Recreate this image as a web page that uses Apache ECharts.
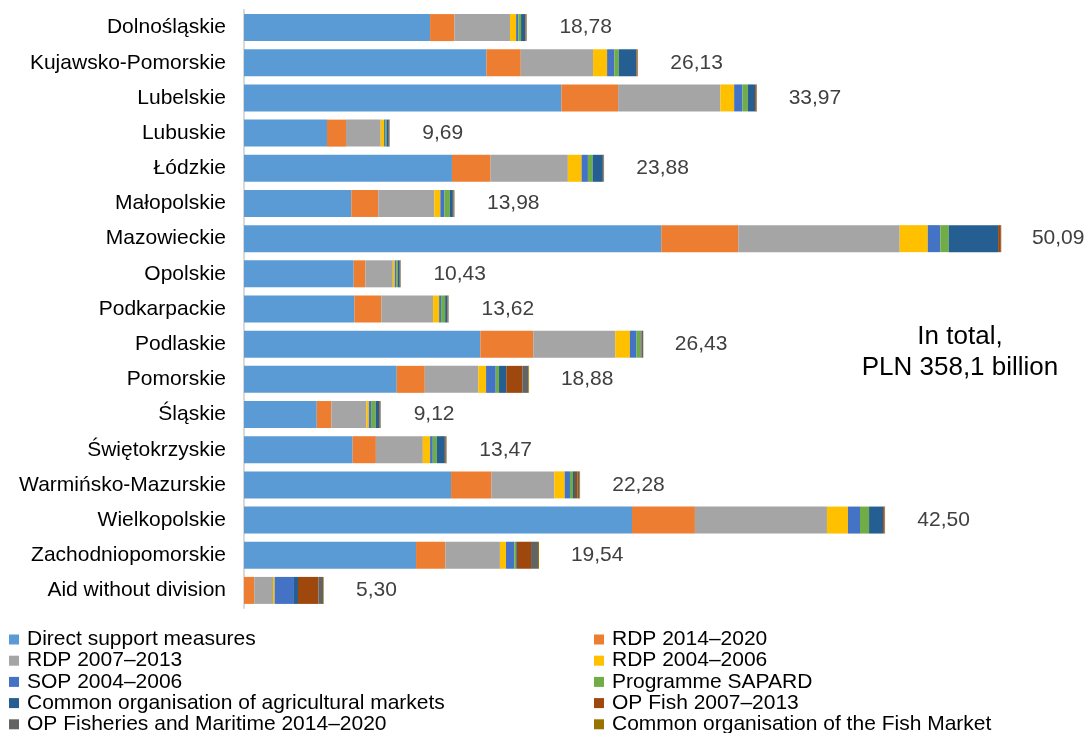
<!DOCTYPE html>
<html>
<head>
<meta charset="utf-8">
<script src="https://cdn.jsdelivr.net/npm/echarts@6/dist/echarts.min.js"></script>
<style>
html,body{margin:0;padding:0;background:#fff;}
#chart{width:1086px;height:733px;}
</style>
</head>
<body>
<div id="chart"></div>
<script>
var categories = ['Dolnośląskie','Kujawsko-Pomorskie','Lubelskie','Lubuskie','Łódzkie','Małopolskie','Mazowieckie','Opolskie','Podkarpackie','Podlaskie','Pomorskie','Śląskie','Świętokrzyskie','Warmińsko-Mazurskie','Wielkopolskie','Zachodniopomorskie','Aid without division'];
var totals = [18.78,26.13,33.97,9.69,23.88,13.98,50.09,10.43,13.62,26.43,18.88,9.12,13.47,22.28,42.50,19.54,5.30];
var totalLabels = ['18,78','26,13','33,97','9,69','23,88','13,98','50,09','10,43','13,62','26,43','18,88','9,12','13,47','22,28','42,50','19,54','5,30'];

var directSupport = [12.33,16.06,21.03,5.50,13.78,7.11,27.65,7.27,7.31,15.66,10.12,4.82,7.20,13.72,25.71,11.40,0];
var rdp2014 = [1.61,2.28,3.76,1.26,2.56,1.79,5.10,0.77,1.79,3.51,1.86,0.97,1.54,2.67,4.17,1.94,0.68];
var rdp2007 = [3.69,4.79,6.78,2.30,5.12,3.71,10.70,1.82,3.43,5.43,3.55,2.32,3.11,4.17,8.75,3.62,1.24];
var rdp2004 = [0.40,0.93,0.91,0.22,0.91,0.40,1.86,0.13,0.40,0.97,0.51,0.16,0.48,0.69,1.39,0.40,0.11];
var sop2004 = [0.15,0.48,0.55,0.07,0.42,0.27,0.83,0.09,0.13,0.44,0.64,0.15,0.18,0.35,0.80,0.55,1.28];
var sapard = [0.18,0.29,0.36,0.09,0.31,0.36,0.56,0.11,0.27,0.27,0.22,0.31,0.27,0.20,0.60,0.13,0];
var agriMarkets = [0.27,1.17,0.48,0.15,0.68,0.20,3.27,0.13,0.13,0.05,0.48,0.22,0.53,0.13,0.93,0.05,0.27];
var opFish = [0.04,0.06,0.09,0.03,0.04,0.04,0.18,0.03,0.04,0.03,1.06,0.05,0.06,0.18,0.10,0.93,1.35];
var opFisheries = [0.05,0.03,0.02,0.03,0.03,0.05,0.02,0.03,0.05,0.08,0.40,0.05,0.04,0.11,0.02,0.46,0.31];
var fishMarket = [0.02,0.02,0.01,0.01,0.01,0.02,0.01,0.01,0.01,0.02,0.05,0.01,0.02,0.05,0.01,0.07,0.04];

var seriesNames = ['Direct support measures','RDP 2014–2020','RDP 2007–2013','RDP 2004–2006','SOP 2004–2006','Programme SAPARD','Common organisation of agricultural markets','OP Fish 2007–2013','OP Fisheries and Maritime 2014–2020','Common organisation of the Fish Market'];
var seriesData = [directSupport,rdp2014,rdp2007,rdp2004,sop2004,sapard,agriMarkets,opFish,opFisheries,fishMarket];
var colors = ['#5B9BD5','#ED7D31','#A5A5A5','#FFC000','#4472C4','#70AD47','#255E91','#9E480E','#636363','#997300'];

var legendLeft = ['Direct support measures','RDP 2007–2013','SOP 2004–2006','Common organisation of agricultural markets','OP Fisheries and Maritime 2014–2020'];
var legendRight = ['RDP 2014–2020','RDP 2004–2006','Programme SAPARD','OP Fish 2007–2013','Common organisation of the Fish Market'];

var FONT = '"Liberation Sans", Arial, sans-serif';

var series = seriesNames.map(function(n,i){
  return {
    name: n, type: 'bar', stack: 'total', barWidth: 27,
    itemStyle: {color: colors[i]},
    emphasis: {disabled: true},
    data: seriesData[i]
  };
});
series.push({
  name: 'totals', type: 'bar', barWidth: 27, barGap: '-100%', z: 1,
  itemStyle: {color: 'rgba(0,0,0,0)'},
  emphasis: {disabled: true},
  label: {
    show: true, position: 'right', distance: 32,
    fontFamily: FONT, fontSize: 21, color: '#404040',
    formatter: function(p){ return totalLabels[p.dataIndex]; }
  },
  data: totals
});

var legendCommon = {
  orient: 'vertical', itemWidth: 10, itemHeight: 10, icon: 'rect', itemGap: 0.2,
  height: 300, width: 480, padding: 0,
  textStyle: {fontFamily: FONT, fontSize: 21, color: '#000', lineHeight: 20, padding: [0,0,0,3]},
  selectedMode: false
};

var chart = echarts.init(document.getElementById('chart'));
chart.setOption({
  animation: false,
  backgroundColor: '#fff',
  color: colors,
  title: {
    text: 'In total,\nPLN 358,1 billion',
    left: 955, top: 316, textAlign: 'center',
    textStyle: {fontFamily: FONT, fontSize: 26, fontWeight: 'normal', color: '#000', lineHeight: 31}
  },
  legend: [
    Object.assign({}, legendCommon, {left: 9, top: 629, data: legendLeft}),
    Object.assign({}, legendCommon, {left: 594, top: 629, data: legendRight})
  ],
  grid: {left: 244, right: 12, top: 10, bottom: 125},
  xAxis: {type: 'value', min: 0, max: 55, show: false},
  yAxis: {
    type: 'category', inverse: true, data: categories,
    axisLine: {show: true, lineStyle: {color: '#D9D9D9', width: 2}},
    axisTick: {show: false},
    axisLabel: {fontFamily: FONT, fontSize: 21, color: '#000', margin: 18}
  },
  series: series
});
</script>
</body>
</html>
